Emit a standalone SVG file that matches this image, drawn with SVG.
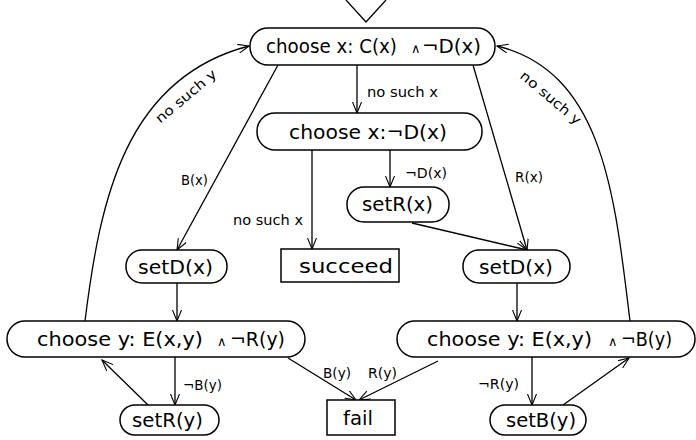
<svg xmlns="http://www.w3.org/2000/svg" width="696" height="440" viewBox="0 0 696 440">
  <defs>
    <marker id="arr" markerWidth="12" markerHeight="10" refX="11" refY="4.5" orient="auto" markerUnits="userSpaceOnUse">
      <path d="M0,0 L11,4.5 L0,9" fill="none" stroke="#000" stroke-width="1.1"/>
    </marker>
  </defs>
  <style>
    .box { fill: #fff; stroke: #000; stroke-width: 1.5; }
    .edge { fill: none; stroke: #000; stroke-width: 1.3; }
    .lbl { font-family: "DejaVu Sans", sans-serif; font-size: 20px; fill: #000; }
    .sm { font-family: "DejaVu Sans", sans-serif; font-size: 13.5px; fill: #000; }
    .and { font-family: "DejaVu Sans", sans-serif; font-size: 13px; fill: #000; }
  </style>
  <rect width="696" height="440" fill="#fff"/>

  <!-- initial marker -->
  <polyline class="edge" points="346,0 366,22 386,0"/>

  <g id="connectors">
    <!-- choose x: C(x)∧¬D(x) -> choose x:¬D(x) -->
    <line class="edge" x1="357" y1="65" x2="357" y2="113" marker-end="url(#arr)"/>
    <text class="sm" x="367" y="97" textLength="71" lengthAdjust="spacingAndGlyphs">no such x</text>
    <!-- -> setD(x) left -->
    <line class="edge" x1="278" y1="65" x2="177" y2="250" marker-end="url(#arr)"/>
    <text class="sm" x="181" y="185" textLength="27" lengthAdjust="spacingAndGlyphs">B(x)</text>
    <!-- -> setD(x) right -->
    <line class="edge" x1="473" y1="65" x2="527" y2="250" marker-end="url(#arr)"/>
    <text class="sm" x="515" y="182" textLength="28" lengthAdjust="spacingAndGlyphs">R(x)</text>
    <!-- choose x:¬D(x) -> setR(x) -->
    <line class="edge" x1="390" y1="150" x2="390" y2="187" marker-end="url(#arr)"/>
    <text class="sm" x="405" y="178" textLength="42" lengthAdjust="spacingAndGlyphs">¬D(x)</text>
    <!-- choose x:¬D(x) -> succeed -->
    <line class="edge" x1="312" y1="150" x2="312" y2="249" marker-end="url(#arr)"/>
    <text class="sm" x="233" y="225" textLength="70" lengthAdjust="spacingAndGlyphs">no such x</text>
    <!-- setR(x) -> setD(x) right -->
    <line class="edge" x1="412" y1="223" x2="527" y2="250" marker-end="url(#arr)"/>
    <!-- setD(x) -> choose y (left / right) -->
    <line class="edge" x1="177" y1="283" x2="177" y2="321" marker-end="url(#arr)"/>
    <line class="edge" x1="517" y1="283" x2="517" y2="321" marker-end="url(#arr)"/>
    <!-- choose y left -> setR(y) and back -->
    <line class="edge" x1="175" y1="357" x2="175" y2="405" marker-end="url(#arr)"/>
    <text class="sm" x="183" y="390" textLength="39" lengthAdjust="spacingAndGlyphs">¬B(y)</text>
    <line class="edge" x1="148" y1="405" x2="102" y2="360" marker-end="url(#arr)"/>
    <!-- choose y right -> setB(y) and back -->
    <line class="edge" x1="532" y1="357" x2="532" y2="405" marker-end="url(#arr)"/>
    <text class="sm" x="478" y="389" textLength="41" lengthAdjust="spacingAndGlyphs">¬R(y)</text>
    <line class="edge" x1="563" y1="405" x2="629" y2="358" marker-end="url(#arr)"/>
    <!-- to fail -->
    <line class="edge" x1="288" y1="358" x2="356" y2="400" marker-end="url(#arr)"/>
    <text class="sm" x="323" y="378" textLength="28" lengthAdjust="spacingAndGlyphs">B(y)</text>
    <line class="edge" x1="438" y1="361" x2="359" y2="400" marker-end="url(#arr)"/>
    <text class="sm" x="368" y="378" textLength="29" lengthAdjust="spacingAndGlyphs">R(y)</text>
    <!-- no such y loops back to the first choice -->
    <path class="edge" d="M85,321 C100,200 125,78 249,46" marker-end="url(#arr)"/>
    <text class="sm" transform="translate(186,97) rotate(-40)" x="-37" y="4" textLength="75" lengthAdjust="spacingAndGlyphs">no such y</text>
    <path class="edge" d="M630,321 C615,200 605,72 497,46" marker-end="url(#arr)"/>
    <text class="sm" transform="translate(550,98) rotate(40)" x="-37" y="4" textLength="75" lengthAdjust="spacingAndGlyphs">no such y</text>
  </g>

  <g id="choose-x-cd">
    <rect class="box" x="250" y="28" width="245" height="37" rx="18"/>
    <text class="lbl" x="266" y="53" textLength="131" lengthAdjust="spacingAndGlyphs">choose x: C(x)</text>
    <text class="and" x="411" y="53">∧</text>
    <text class="lbl" x="422" y="53" textLength="59" lengthAdjust="spacingAndGlyphs">¬D(x)</text>
  </g>
  <g id="choose-x-d">
    <rect class="box" x="257" y="113" width="225" height="37" rx="18"/>
    <text class="lbl" x="289" y="139" textLength="158" lengthAdjust="spacingAndGlyphs">choose x:¬D(x)</text>
  </g>
  <g id="setR-x">
    <rect class="box" x="347" y="187" width="102" height="35" rx="17"/>
    <text class="lbl" x="362" y="211" textLength="71" lengthAdjust="spacingAndGlyphs">setR(x)</text>
  </g>
  <g id="succeed">
    <rect class="box" x="281" y="249" width="118" height="33"/>
    <text class="lbl" x="299" y="273" textLength="94" lengthAdjust="spacingAndGlyphs">succeed</text>
  </g>
  <g id="setD-x-left">
    <rect class="box" x="126" y="250" width="101" height="33" rx="16"/>
    <text class="lbl" x="138" y="274" textLength="75" lengthAdjust="spacingAndGlyphs">setD(x)</text>
  </g>
  <g id="setD-x-right">
    <rect class="box" x="463" y="250" width="107" height="33" rx="16"/>
    <text class="lbl" x="479" y="274" textLength="74" lengthAdjust="spacingAndGlyphs">setD(x)</text>
  </g>
  <g id="choose-y-r">
    <rect class="box" x="7" y="321" width="298" height="36" rx="18"/>
    <text class="lbl" x="37" y="346" textLength="166" lengthAdjust="spacingAndGlyphs">choose y: E(x,y)</text>
    <text class="and" x="217" y="346">∧</text>
    <text class="lbl" x="230" y="346" textLength="55" lengthAdjust="spacingAndGlyphs">¬R(y)</text>
  </g>
  <g id="choose-y-b">
    <rect class="box" x="397" y="321" width="298" height="36" rx="18"/>
    <text class="lbl" x="427" y="346" textLength="165" lengthAdjust="spacingAndGlyphs">choose y: E(x,y)</text>
    <text class="and" x="608" y="346">∧</text>
    <text class="lbl" x="621" y="346" textLength="51" lengthAdjust="spacingAndGlyphs">¬B(y)</text>
  </g>
  <g id="setR-y">
    <rect class="box" x="120" y="405" width="99" height="30" rx="15"/>
    <text class="lbl" x="132" y="427" textLength="71" lengthAdjust="spacingAndGlyphs">setR(y)</text>
  </g>
  <g id="fail">
    <rect class="box" x="327" y="400" width="68" height="35"/>
    <text class="lbl" x="343" y="425" textLength="30" lengthAdjust="spacingAndGlyphs">fail</text>
  </g>
  <g id="setB-y">
    <rect class="box" x="490" y="405" width="96" height="30" rx="15"/>
    <text class="lbl" x="506" y="427" textLength="70" lengthAdjust="spacingAndGlyphs">setB(y)</text>
  </g>
</svg>
